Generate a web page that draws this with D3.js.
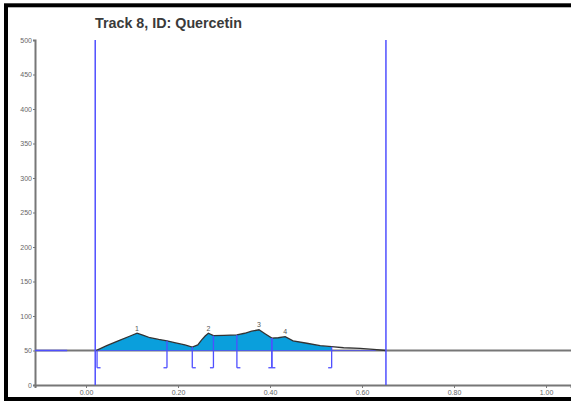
<!DOCTYPE html>
<html>
<head>
<meta charset="utf-8">
<script src="https://cdn.jsdelivr.net/npm/d3@7"></script>
<style>
  body { margin: 0; background: #fff; }
  text { font-family: 'Liberation Sans', Arial, sans-serif; }
</style>
</head>
<body>
<div id="chart"></div>
<script>
// densitogram trace (Rf, intensity)
const rf = [0.02, 0.024, 0.045, 0.07, 0.096, 0.111, 0.125, 0.139, 0.158, 0.176, 0.195, 0.215, 0.231, 0.243, 0.251, 0.259, 0.266, 0.277, 0.30, 0.328, 0.345, 0.36, 0.376, 0.39, 0.404, 0.418, 0.433, 0.45, 0.48, 0.509, 0.534, 0.56, 0.596, 0.625, 0.652];
const intensity = [50, 50.5, 57, 64, 71, 75, 72, 68.5, 66, 64, 61, 58, 55, 58, 65, 71, 75, 71.5, 72, 72.5, 75, 78, 80, 74, 68, 68.5, 70, 64, 60.5, 57, 55.5, 54, 53, 51.5, 50];

const baseline = 50;
const startRf = 0.02;
const frontRf = 0.652;

// integrated peaks
const peakNames = ['1', '2', '3', '4'];
const peakStart = [0.024, 0.231, 0.328, 0.404];
const peakEnd = [0.176, 0.277, 0.404, 0.534];
const peakTopRf = [0.111, 0.266, 0.376, 0.433];

const xTicks = [0, 0.2, 0.4, 0.6, 0.8, 1.0];
const yTicks = [0, 50, 100, 150, 200, 250, 300, 350, 400, 450, 500];

const trace = rf.map((r, i) => ({ rf: r, v: intensity[i] }));
const valueAt = (r) => trace[d3.bisector((d) => d.rf).left(trace, r)].v;

const width = 571, height = 402;
const blue = '#4f4fff';

const x = d3.scaleLinear().domain([-0.1109, 1.0543]).range([35, 571]);
const y = d3.scaleLinear().domain([0, 500]).range([385, 40]);

const svg = d3.select('#chart').append('svg').attr('width', width).attr('height', height);

// frame
svg.append('rect')
	.attr('x', 6).attr('y', 5.3).attr('width', 620).attr('height', 393.7)
	.attr('fill', 'none').attr('stroke', '#000').attr('stroke-width', 4);

svg.append('text')
	.attr('x', 95).attr('y', 27.5)
	.attr('font-size', 15).attr('font-weight', 'bold').attr('fill', '#3a3a3a')
	.attr('textLength', 147).attr('lengthAdjust', 'spacingAndGlyphs')
	.text('Track 8, ID: Quercetin');

// axes
const xAxis = svg.append('g').attr('transform', `translate(0,${y(0)})`)
	.call(d3.axisBottom(x).tickValues(xTicks).tickFormat(d3.format('.2f')).tickSize(3).tickPadding(2));
const yAxis = svg.append('g').attr('transform', `translate(${x.range()[0]},0)`)
	.call(d3.axisLeft(y).tickValues(yTicks).tickSize(2).tickPadding(1));

[xAxis, yAxis].forEach((g) => {
	g.select('.domain').attr('stroke', '#777').attr('stroke-width', 2);
	g.selectAll('.tick line').attr('stroke', '#777');
	g.selectAll('.tick text').attr('fill', '#666').attr('font-size', 7).attr('font-family', "'Liberation Sans', Arial, sans-serif");
});

// baseline
svg.append('line')
	.attr('x1', x.range()[0]).attr('x2', x.range()[1])
	.attr('y1', y(baseline)).attr('y2', y(baseline))
	.attr('stroke', '#777').attr('stroke-width', 2);
svg.append('line')
	.attr('x1', x.range()[0]).attr('x2', x(-0.041))
	.attr('y1', y(baseline)).attr('y2', y(baseline))
	.attr('stroke', blue).attr('stroke-width', 1.5);

// filled integrated area
const area = d3.area()
	.x((d) => x(d.rf))
	.y0(y(baseline))
	.y1((d) => y(d.v));
svg.append('path')
	.datum(trace.filter((d) => d.rf <= peakEnd[peakEnd.length - 1]))
	.attr('d', area)
	.attr('fill', '#0a9fdc');

svg.append('line')
	.attr('x1', x(startRf)).attr('x2', x(0.63))
	.attr('y1', y(baseline)).attr('y2', y(baseline))
	.attr('stroke', blue).attr('stroke-width', 1.2).attr('opacity', 0.7);

// trace line
svg.append('path')
	.datum(trace)
	.attr('d', d3.line().x((d) => x(d.rf)).y((d) => y(d.v)))
	.attr('fill', 'none').attr('stroke', '#333').attr('stroke-width', 1.3);

// start / front lines
[startRf, frontRf].forEach((r) => {
	svg.append('line')
		.attr('x1', x(r)).attr('x2', x(r))
		.attr('y1', y(500)).attr('y2', y(0))
		.attr('stroke', blue).attr('stroke-width', 1.5);
});

// integration markers
const markerLow = 25;
const markers = [];
peakStart.forEach((r) => markers.push({ rf: r, dir: 1 }));
peakEnd.forEach((r) => markers.push({ rf: r, dir: -1 }));
markers.forEach((m) => {
	const px = x(m.rf);
	svg.append('line')
		.attr('x1', px).attr('x2', px)
		.attr('y1', y(valueAt(m.rf))).attr('y2', y(markerLow))
		.attr('stroke', blue).attr('stroke-width', 1.3);
	svg.append('line')
		.attr('x1', px).attr('x2', px + m.dir * 3.5)
		.attr('y1', y(markerLow)).attr('y2', y(markerLow))
		.attr('stroke', blue).attr('stroke-width', 1.3);
});

// peak labels
svg.selectAll('.plabel')
	.data(peakNames)
	.enter()
	.append('text')
	.attr('x', (d, i) => x(peakTopRf[i]))
	.attr('y', (d, i) => y(valueAt(peakTopRf[i])) - 2.5)
	.attr('text-anchor', 'middle')
	.attr('font-size', 7)
	.attr('fill', '#555')
	.text((d) => d);
</script>
</body>
</html>
